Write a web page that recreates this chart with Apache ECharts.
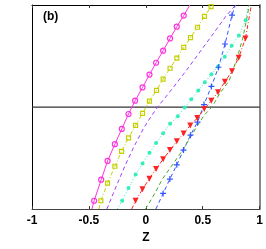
<!DOCTYPE html>
<html><head><meta charset="utf-8">
<script src="https://cdn.jsdelivr.net/npm/echarts@6/dist/echarts.min.js"></script>
<style>html,body{margin:0;padding:0;background:#fff}#c{width:266px;height:249px}</style>
</head><body><div id="c"></div>
<script>
// x tick labels
var xTicks = [-1, -0.5, 0, 0.5, 1];
// Series: [z, y] pairs; first and last points are curve ends (no marker)
var magenta = [[-0.474,0],[-0.454,0.041],[-0.392,0.144],[-0.336,0.236],[-0.272,0.318],[-0.211,0.393],[-0.152,0.466],[-0.094,0.531],[-0.029,0.596],[0.032,0.659],[0.090,0.717],[0.152,0.776],[0.213,0.836],[0.272,0.894],[0.333,0.948],[0.386,1.0]];
var yellow = [[-0.412,0],[-0.395,0.041],[-0.336,0.127],[-0.272,0.210],[-0.213,0.283],[-0.152,0.349],[-0.090,0.410],[-0.029,0.469],[0.032,0.529],[0.094,0.582],[0.152,0.637],[0.213,0.690],[0.272,0.740],[0.333,0.792],[0.392,0.840],[0.454,0.891],[0.515,0.944],[0.573,0.992],[0.585,1.0]];
var purple = [[-0.342,0],[-0.263,0.108],[-0.184,0.211],[-0.105,0.305],[-0.022,0.394],[0.053,0.460],[0.114,0.507],[0.241,0.596],[0.377,0.695],[0.500,0.789],[0.623,0.883],[0.702,0.944],[0.789,1.0]];
var cyan = [[-0.252,0],[-0.208,0.041],[-0.152,0.103],[-0.090,0.169],[-0.029,0.224],[0.032,0.276],[0.090,0.324],[0.152,0.372],[0.213,0.418],[0.281,0.455],[0.342,0.498],[0.399,0.538],[0.461,0.581],[0.518,0.622],[0.576,0.661],[0.634,0.698],[0.693,0.746],[0.754,0.800],[0.818,0.851],[0.877,0.925],[0.904,1.0]];
var blue = [[0.088,0],[0.152,0.077],[0.211,0.147],[0.272,0.217],[0.331,0.289],[0.392,0.362],[0.454,0.426],[0.511,0.512],[0.576,0.601],[0.638,0.695],[0.696,0.809],[0.757,0.950],[0.787,1.0]];
var red = [[-0.125,0],[-0.090,0.041],[-0.029,0.097],[0.031,0.149],[0.090,0.197],[0.152,0.244],[0.212,0.289],[0.272,0.332],[0.332,0.371],[0.390,0.410],[0.452,0.446],[0.513,0.490],[0.575,0.531],[0.634,0.573],[0.695,0.624],[0.757,0.676],[0.816,0.742],[0.875,0.836],[0.927,1.0]];
var green = [[-0.003,0],[0.079,0.077],[0.145,0.147],[0.225,0.210],[0.303,0.272],[0.382,0.343],[0.452,0.408],[0.513,0.460],[0.583,0.502],[0.649,0.566],[0.732,0.629],[0.803,0.742],[0.851,0.836],[0.886,0.930],[0.908,1.0]];
var refLine = [[-1,0.5],[1,0.5]];

function withEnds(arr){
  return arr.map(function(p,i){
    if(i===0||i===arr.length-1) return {value:p, symbol:'none'};
    return {value:p};
  });
}
var plus = 'path://M4,0h2v4h4v2h-4v4h-2v-4h-4v-2h4z';
function ser(data, color, type, width, sym, size, fill, rot){
  return {type:'line', data: sym==='none'?data:withEnds(data), smooth:false, silent:true,
    symbol: sym, symbolSize:size, symbolRotate: rot||0, showAllSymbol:true,
    lineStyle:{color:color, width:width, type:type},
    itemStyle: fill ? {color:color, borderWidth:0} : {color:'rgba(0,0,0,0)', borderColor:color, borderWidth:1.2},
    z:3};
}
var font = '"Liberation Sans", Arial, sans-serif';
var chart = echarts.init(document.getElementById('c'), null, {renderer:'canvas'});
chart.setOption({
  animation:false,
  grid:{left:32, right:6, top:5, bottom:31},
  xAxis:[{type:'value', min:-1, max:1, interval:0.5, position:'bottom',
    axisLine:{show:true, onZero:false, lineStyle:{color:'#444', width:1}},
    axisTick:{show:true, inside:true, length:3, lineStyle:{color:'#333'}},
    axisLabel:{show:true, color:'#000', fontSize:12, fontWeight:'bold', fontFamily:font, margin:6,
      formatter:function(v){ var i = xTicks.indexOf(v); return i>=0 ? String(xTicks[i]) : ''; }},
    splitLine:{show:false},
    name:'Z', nameLocation:'middle', nameGap:19,
    nameTextStyle:{color:'#000', fontSize:12, fontWeight:'bold', fontFamily:font}},
   {type:'value', min:-1, max:1, interval:0.5, position:'top',
    axisLine:{show:true, onZero:false, lineStyle:{color:'#000', width:1}},
    axisTick:{show:true, inside:true, length:3, lineStyle:{color:'#333'}},
    axisLabel:{show:false}, splitLine:{show:false}}],
  yAxis:[{type:'value', min:0, max:1, position:'left',
    axisLine:{show:true, onZero:false, lineStyle:{color:'#000', width:1}},
    axisTick:{show:false}, axisLabel:{show:false}, splitLine:{show:false}},
   {type:'value', min:0, max:1, position:'right',
    axisLine:{show:true, onZero:false, lineStyle:{color:'#888', width:2}},
    axisTick:{show:false}, axisLabel:{show:false}, splitLine:{show:false}}],
  graphic:[{type:'text', left:43, top:11, style:{text:'(b)', fill:'#000', font:'bold 12px '+font}}],
  series:[
    {type:'line', data:refLine, symbol:'none', silent:true, lineStyle:{color:'#333', width:1.3}, z:2},
    ser(magenta, '#ff33dd', 'solid', 1, 'circle', 5, false),
    ser(yellow, '#c4d000', [4,2,1,2], 1, 'rect', 4, false),
    ser(purple, '#a040ff', [4,3], 1, 'none', 0, true),
    ser(cyan, '#33eebb', [1,2], 1, 'circle', 4, true),
    ser(blue, '#3355ff', [4,3], 1, plus, 6, true),
    ser(red, '#ff2222', [4,2,1,2], 1, 'triangle', 6, true, 180),
    ser(green, '#44aa22', [4,3], 1, 'none', 0, true)
  ]
});
</script></body></html>
